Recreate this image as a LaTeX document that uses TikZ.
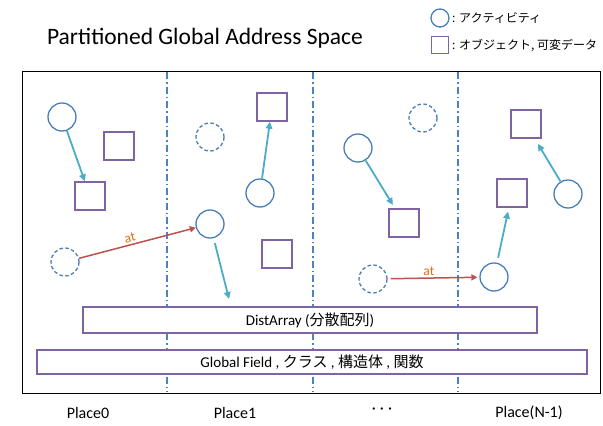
\documentclass[tikz,border=0pt]{standalone}
\usepackage{fontspec}
\setmainfont{Carlito}
\newfontfamily\cjk{Noto Sans CJK JP}
\usetikzlibrary{arrows.meta}
\definecolor{actblue}{RGB}{74,126,187}
\definecolor{objpurple}{RGB}{128,100,162}
\definecolor{refteal}{RGB}{75,172,198}
\definecolor{atred}{RGB}{192,80,77}
\definecolor{atorange}{RGB}{228,108,10}
\definecolor{lineblue}{RGB}{79,129,189}
\begin{document}
\begin{tikzpicture}[x=1pt,y=-1pt,
  act/.style={circle,draw=actblue,line width=1.3pt,minimum size=28pt,inner sep=0pt},
  ract/.style={act,dash pattern=on 3.5pt off 2.5pt},
  obj/.style={draw=objpurple,line width=1.3pt,minimum width=30pt,minimum height=28pt,inner sep=0pt,fill=white},
  bar/.style={draw=objpurple,line width=1.3pt,inner sep=0pt,fill=white,font=\fontsize{15}{17}\selectfont},
  refarrow/.style={draw=refteal,line width=1.8pt,-{Triangle[length=7pt,width=6.5pt]}},
  atarrow/.style={draw=atred,line width=1.5pt,-{Triangle[length=6pt,width=6pt]}},
  atlabel/.style={text=atorange,font=\fontsize{13.5}{15}\selectfont,inner sep=2pt},
  placeline/.style={draw=lineblue,line width=1.3pt,dash pattern=on 7pt off 3pt on 1.5pt off 3pt},
  placelabel/.style={font=\fontsize{16}{18}\selectfont},
  legendtext/.style={font=\cjk\fontsize{12}{14}\selectfont,anchor=west,inner sep=0pt}
]
\useasboundingbox (0,0) rectangle (603,426);

% title and legend
\node[font=\fontsize{23.5}{27}\selectfont] (title) at (205,38) {Partitioned Global Address Space};
\node[act,minimum size=18pt] (lgact) at (440,18) {};
\node[obj,minimum width=17pt,minimum height=17pt] (lgobj) at (440,45) {};
\node[legendtext] (lgacttext) at (452,18) {: アクティビティ};
\node[legendtext] (lgobjtext) at (452,45) {: オブジェクト, 可変データ};

% frame and place separators
\node[draw,line width=1.4pt,minimum width=578pt,minimum height=322pt,inner sep=0pt,anchor=north west] (frame) at (22,71) {};
\draw[placeline] (167,72) -- (167,392);
\draw[placeline] (313,72) -- (313,392);
\draw[placeline] (458,72) -- (458,392);

% shared structures
\node[bar,minimum width=454pt,minimum height=26pt] (dist) at (310,320) {DistArray ({\cjk 分散配列})};
\node[bar,minimum width=550pt,minimum height=24pt] (glob) at (312,362) {Global Field , {\cjk クラス} , {\cjk 構造体} , {\cjk 関数}};

% place labels
\node[placelabel] (p0) at (88,413) {Place0};
\node[placelabel] (p1) at (235,413) {Place1};
\node[placelabel] (pd) at (382,411) {·\hspace{4pt}·\hspace{4pt}·};
\node[placelabel] (pn) at (529,413) {Place(N-1)};

% Place0
\node[act] (c1) at (62,117) {};
\node[obj] (s1) at (119,146) {};
\node[obj] (s2) at (90,196) {};
\node[ract] (d1) at (65,262) {};
% Place1
\node[act] (c2) at (210,224) {};
\node[ract] (d2) at (210,137) {};
\node[obj] (s3) at (272,107) {};
\node[act] (c3) at (260,193) {};
\node[obj] (s4) at (277,254) {};
\coordinate (e1) at (229,299);
% Place ...
\node[ract] (d3) at (423,118) {};
\node[act] (c4) at (358,148) {};
\node[obj] (s5) at (404,223) {};
\node[ract] (d4) at (373,279) {};
% Place(N-1)
\node[act] (c5) at (494,277) {};
\node[obj] (s6) at (512,193) {};
\node[obj] (s7) at (526,124) {};
\node[act] (c6) at (568,194) {};

% references
\draw[refarrow] (c1) -- (s2);
\draw[refarrow,shorten <=5pt] (c2) -- (e1);
\draw[refarrow] (c3) -- (s3);
\draw[refarrow,shorten >=4pt] (c4) -- (s5);
\draw[refarrow,shorten <=5pt,shorten >=4pt] (c5) -- (s6);
\draw[refarrow,shorten >=6pt] (c6) -- (s7);

% at
\draw[atarrow] (d1) -- node[atlabel,above,sloped,pos=0.45] {at} (c2);
\draw[atarrow,shorten <=3pt,shorten >=2pt] (d4) -- node[atlabel,above,pos=0.45] {at} (c5);
\end{tikzpicture}
\end{document}
